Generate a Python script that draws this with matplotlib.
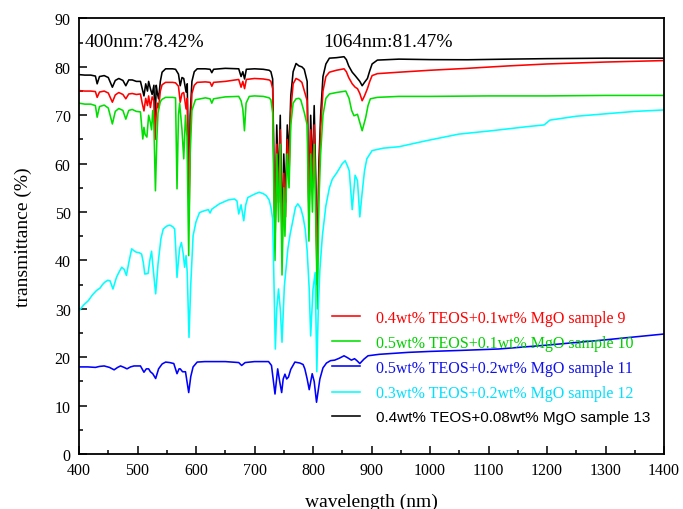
import matplotlib
matplotlib.use("Agg")
import matplotlib.pyplot as plt
from matplotlib.ticker import MultipleLocator

# ---------------- data ----------------
labels = ["0.4wt% TEOS+0.1wt% MgO sample 9",
          "0.5wt% TEOS+0.1wt% MgO sample 10",
          "0.5wt% TEOS+0.2wt% MgO sample 11",
          "0.3wt% TEOS+0.2wt% MgO sample 12",
          "0.4wt% TEOS+0.08wt% MgO sample 13"]

wl_s13 = [400, 410, 420, 428, 431, 435, 443, 450, 457, 462, 468, 475, 480, 485, 491, 498, 505, 508, 511, 514,
          517, 519, 522, 525, 528, 530, 532, 534, 536, 539, 542, 548, 560, 565, 570, 573, 576, 579, 583, 585,
          588, 590, 593, 597, 602, 616, 624, 627, 630, 650, 673, 677, 680, 683, 686, 700, 715, 725, 728, 731,
          735, 738, 741, 744, 747, 750, 753, 756, 759, 762, 766, 771, 776, 781, 785, 790, 793, 796, 799, 802,
          805, 807, 810, 813, 817, 822, 828, 840, 853, 857, 861, 867, 872, 876, 880, 884, 888, 893, 897, 901,
          910, 947, 1000, 1064, 1134, 1200, 1300, 1400]
t_s13 = [78.4, 78.3, 78.3, 78.1, 76.5, 78.0, 78.2, 77.8, 75.8, 77.2, 77.6, 77.2, 76.1, 77.3, 77.3, 77.0, 77.0, 75.5, 74.0, 76.5,
         75.0, 77.0, 75.5, 74.3, 76.2, 68.0, 76.2, 74.5, 73.4, 77.0, 78.9, 79.6, 79.6, 79.5, 78.5, 76.1, 77.8, 77.6, 74.8, 76.5,
         52.0, 70.0, 77.0, 79.0, 79.6, 79.6, 79.5, 78.8, 79.5, 79.7, 79.6, 78.0, 79.0, 77.5, 79.5, 79.6, 79.5, 79.3, 79.0, 77.5,
         45.0, 68.0, 55.0, 70.0, 45.0, 62.0, 52.0, 68.0, 62.0, 74.0, 79.0, 80.7, 80.2, 80.0, 79.5, 77.0, 50.0, 70.0, 58.0, 72.0,
         55.0, 38.0, 60.0, 70.0, 78.0, 80.6, 81.8, 81.9, 82.1, 81.5, 80.2, 78.9, 78.2, 77.6, 77.0, 76.1, 76.8, 77.6, 79.2, 80.6,
         81.4, 81.6, 81.5, 81.47, 81.6, 81.7, 81.8, 81.8]

wl_s9 = [400, 410, 420, 428, 431, 435, 443, 450, 457, 462, 468, 475, 480, 485, 491, 498, 505, 508, 511, 514,
         517, 519, 522, 525, 528, 530, 532, 534, 536, 539, 542, 548, 560, 565, 570, 573, 576, 579, 583, 585,
         588, 590, 593, 597, 602, 616, 624, 627, 630, 650, 673, 677, 680, 683, 686, 700, 715, 725, 728, 731,
         735, 738, 741, 744, 747, 750, 753, 756, 759, 762, 766, 771, 776, 781, 785, 790, 793, 796, 799, 802,
         805, 807, 810, 813, 817, 822, 828, 840, 853, 857, 861, 867, 872, 876, 880, 884, 888, 893, 897, 901,
         910, 947, 1000, 1064, 1134, 1200, 1300, 1400]
t_s9 = [75.1, 75.0, 75.0, 74.9, 73.7, 74.8, 75.0, 74.6, 72.7, 74.2, 74.7, 74.3, 73.4, 74.4, 74.5, 74.3, 74.4, 72.5, 70.9, 73.5,
        72.0, 74.0, 71.6, 73.8, 73.0, 65.0, 70.6, 72.5, 71.5, 75.0, 76.3, 76.8, 76.8, 76.7, 76.0, 72.7, 74.5, 74.7, 71.3, 73.5,
        48.0, 66.0, 74.5, 76.2, 76.8, 76.9, 76.8, 76.0, 76.8, 77.0, 77.4, 75.8, 77.0, 75.5, 77.4, 77.6, 77.5, 77.3, 77.0, 75.5,
        43.0, 64.0, 52.0, 67.0, 42.0, 58.0, 49.0, 65.0, 58.0, 71.0, 76.5, 77.6, 77.3, 76.8, 75.1, 73.0, 48.0, 67.0, 55.0, 68.0,
        52.0, 35.0, 57.0, 67.0, 75.0, 78.0, 78.9, 79.3, 79.6, 79.0, 77.8, 76.5, 75.8, 75.5, 74.5, 73.0, 74.0, 75.5, 77.0, 78.2,
        78.6, 78.9, 79.3, 79.7, 80.2, 80.6, 81.0, 81.3]

wl_s10 = [400, 410, 420, 428, 431, 435, 443, 450, 457, 462, 468, 475, 480, 485, 491, 498, 505, 509, 511, 513,
          516, 519, 522, 524, 526, 528, 530.6, 533, 535, 539, 542, 548, 560, 565, 567.5, 570, 572, 576, 579, 582,
          584.6, 587.5, 590, 593, 599, 616, 624, 627, 630, 650, 673, 677, 680, 682.8, 685.6, 691, 700, 715, 725, 728,
          731, 735, 738, 741, 744, 747, 750, 752, 756, 759, 762, 766, 771, 776, 779, 785, 790, 793, 796, 799,
          802, 805, 807.5, 810, 813, 817, 822, 828, 840, 856, 861.6, 866, 870, 876, 880, 884, 890, 894, 898, 910,
          947, 1000, 1100, 1200, 1300, 1400]
t_s10 = [72.5, 72.3, 72.3, 72.0, 69.6, 71.8, 72.1, 71.5, 68.2, 70.8, 71.4, 71.0, 69.2, 71.0, 71.2, 70.8, 70.7, 65.1, 67.5, 66.0,
         65.5, 70.0, 68.5, 67.0, 71.0, 68.0, 54.4, 65.0, 70.5, 72.8, 73.3, 73.7, 73.7, 73.6, 54.8, 70.0, 72.5, 67.0, 61.0, 70.0,
         65.5, 41.0, 62.0, 71.0, 73.2, 73.6, 73.4, 72.5, 73.4, 73.8, 73.9, 73.0, 71.3, 66.8, 72.5, 73.9, 74.0, 73.9, 73.6, 73.2,
         70.5, 40.0, 62.0, 48.0, 64.0, 37.0, 55.0, 45.0, 62.0, 55.0, 68.0, 72.5, 73.4, 73.5, 73.2, 70.6, 68.0, 44.0, 62.0, 50.0,
         64.0, 47.0, 30.0, 52.0, 62.0, 70.0, 73.5, 74.4, 74.7, 75.0, 73.5, 71.0, 69.9, 70.2, 68.5, 66.8, 69.5, 72.0, 73.4, 73.7,
         73.9, 73.9, 74.0, 74.0, 74.1, 74.1]

wl_s11 = [400, 415, 428, 435, 443, 452, 460, 466, 471, 477, 482, 488, 494, 500, 505, 511, 515, 519, 522, 526,
          531, 536, 542, 548, 555, 562, 567.5, 571, 573, 577, 582, 587.5, 591, 595, 602, 615, 627, 650, 673, 678,
          684, 700, 724, 729, 735, 739.6, 743, 746.4, 749, 752, 755, 758, 762, 769, 777.6, 783, 786, 790, 793.5, 798.6,
          802, 806, 811.7, 817, 823, 830, 837, 845, 853, 859, 865.6, 871, 875, 880, 887, 894, 913, 962, 1000, 1050,
          1117, 1200, 1300, 1400]
t_s11 = [18.0, 18.0, 17.9, 18.1, 18.2, 17.9, 17.4, 17.9, 18.2, 17.9, 17.6, 18.0, 18.2, 18.2, 18.2, 16.9, 17.6, 17.6, 17.0, 16.6,
         15.6, 17.6, 18.6, 19.0, 18.9, 18.7, 16.6, 17.6, 17.6, 17.0, 17.0, 12.7, 16.0, 18.0, 19.0, 19.1, 19.1, 19.1, 18.9, 18.3,
         18.9, 19.1, 19.1, 18.3, 12.4, 17.6, 15.0, 12.7, 15.5, 16.5, 15.5, 15.9, 17.5, 19.0, 18.8, 18.5, 17.6, 15.5, 13.3, 16.6,
         15.0, 10.7, 15.5, 17.8, 18.8, 19.3, 19.4, 19.8, 20.3, 19.9, 19.4, 19.7, 19.3, 18.7, 19.6, 20.3, 20.6, 21.0, 21.2, 21.4,
         21.7, 22.5, 23.6, 24.8]

wl_s12 = [400, 408, 416, 423, 430, 436, 440, 444, 449, 453, 458, 464, 468, 473, 477, 481, 485, 490, 494, 498,
          503, 507, 510, 512.4, 518, 521, 524, 527, 531, 533, 535, 540, 544, 550, 555, 560, 563.5, 565.5, 567.5, 570,
          572, 575, 578, 580.5, 583, 585, 588, 591, 595, 600, 606, 615, 621, 624, 627, 640, 655, 665.7, 670, 673,
          677, 681.6, 685, 688.5, 700, 708, 715, 720, 725, 728, 731, 735.6, 738, 741, 744, 747, 751, 754, 757, 761,
          765, 770, 774, 779, 783, 786.6, 790, 793.5, 796, 800, 803.7, 806.5, 809, 811.7, 816, 822, 828, 833, 840, 844.6,
          850, 855, 859, 862, 867, 872, 876, 880, 884, 888, 892, 901, 920, 947, 992, 1049, 1105, 1134, 1170, 1195,
          1205, 1250, 1300, 1350, 1400]
t_s12 = [29.6, 30.8, 31.7, 32.9, 33.8, 34.3, 35.0, 35.5, 35.9, 35.8, 34.1, 36.5, 37.5, 38.6, 38.2, 36.9, 39.5, 42.4, 42.0, 41.7,
         41.6, 41.3, 39.5, 37.2, 37.3, 40.0, 41.9, 38.0, 33.1, 36.0, 39.2, 44.5, 46.5, 47.1, 47.3, 47.0, 46.5, 42.0, 36.5, 40.0,
         42.5, 43.7, 41.5, 38.6, 41.0, 37.5, 24.1, 35.0, 45.1, 48.0, 49.9, 50.3, 50.5, 49.8, 50.6, 51.7, 52.5, 52.7, 52.3, 49.6,
         51.5, 48.2, 51.5, 53.0, 53.7, 54.1, 53.8, 53.4, 52.5, 51.0, 48.6, 21.7, 30.0, 34.1, 30.0, 23.1, 34.7, 38.5, 42.4, 45.5,
         47.9, 51.0, 51.7, 50.8, 49.0, 46.5, 42.0, 34.1, 24.4, 34.1, 37.5, 17.0, 30.0, 38.0, 45.1, 51.3, 55.0, 56.8, 58.0, 58.9,
         60.0, 60.6, 59.5, 58.5, 50.5, 57.6, 56.5, 49.0, 54.0, 58.5, 61.0, 62.7, 63.2, 63.5, 64.7, 66.1, 66.8, 67.2, 67.7, 68.0,
         69.0, 69.8, 70.3, 70.8, 71.1]

ann_400 = "400nm:78.42%"
ann_1064 = "1064nm:81.47%"

# ---------------- figure ----------------
plt.rcParams['font.family'] = ['Liberation Serif', 'DejaVu Serif']
fig = plt.figure(figsize=(6.83, 5.10), dpi=100)
ax = fig.add_axes([0.1157, 0.1078, 0.8565, 0.854])

lw = 1.15
h13, = ax.plot(wl_s13, t_s13, color='#000000', lw=lw, label=labels[4])
h9, = ax.plot(wl_s9, t_s9, color='#ff0000', lw=lw, label=labels[0])
h10, = ax.plot(wl_s10, t_s10, color='#00e000', lw=lw, label=labels[1])
h11, = ax.plot(wl_s11, t_s11, color='#0000ff', lw=lw, label=labels[2])
h12, = ax.plot(wl_s12, t_s12, color='#00ffff', lw=lw, label=labels[3])

ax.set_xlim(400, 1400)
ax.set_ylim(0, 90)
ax.xaxis.set_major_locator(MultipleLocator(100))
ax.xaxis.set_minor_locator(MultipleLocator(50))
ax.yaxis.set_major_locator(MultipleLocator(10))
ax.yaxis.set_minor_locator(MultipleLocator(5))
ax.tick_params(which='both', direction='in', top=False, right=False, labelsize=11.5, width=1.1)
ax.tick_params(which='major', length=5.5, pad=6)
ax.tick_params(which='minor', length=3)
for s in ax.spines.values():
    s.set_linewidth(1.3)

ax.set_xlabel("wavelength (nm)", fontsize=14, labelpad=10)
ax.set_ylabel("transmittance (%)", fontsize=14, labelpad=16)

ax.text(410, 85.3, ann_400, fontsize=14, va='center', ha='left')
ax.text(817, 85.3, ann_1064, fontsize=14, va='center', ha='left')

leg = ax.legend(handles=[h9, h10, h11, h12, h13], loc='upper left',
                bbox_to_anchor=(0.432, 0.331), frameon=False, fontsize=11.5,
                handlelength=1.75, handletextpad=1.0, labelspacing=0.57,
                borderaxespad=0, borderpad=0)
text_colors = ['#ff0000', '#00d000', '#1010ee', '#00e0ff', '#000000']
for t, c in zip(leg.get_texts(), text_colors):
    t.set_color(c)
leg.get_texts()[4].set_fontfamily(['Liberation Sans', 'DejaVu Sans'])
leg.get_texts()[4].set_fontsize(11)

fig.savefig("out.png", dpi=100)
